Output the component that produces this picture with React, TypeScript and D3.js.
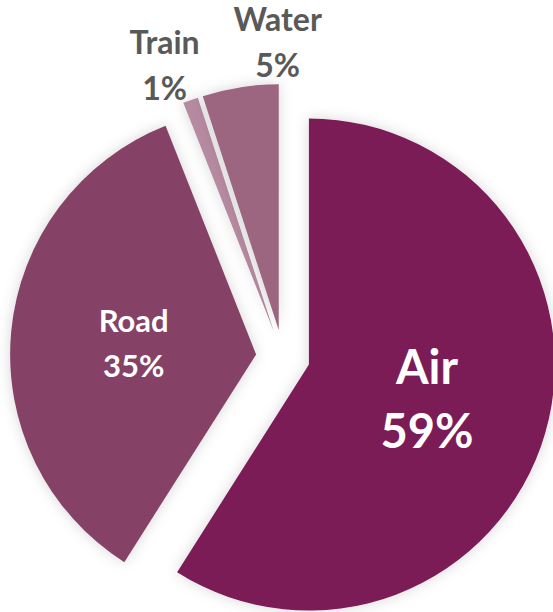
import React, { useEffect, useRef } from 'react';
import * as d3 from 'd3';

const categories = ['Air', 'Road', 'Train', 'Water'];
const shares = [59, 35, 1, 5];
const sliceColors = ['#7b1a57', '#854366', '#b68aa0', '#9c6580'];

// label placement: inside labels sit halfway out, small ones outside
const labelInside = [true, true, false, false];
const labelAngleNudge = [0, 0, -0.04, 0.14];

const W = 553;
const H = 612;

export default function App() {
  const ref = useRef<SVGSVGElement>(null);

  useEffect(() => {
    if (!ref.current) return;
    const svg = d3.select(ref.current);
    svg.selectAll('*').remove();

    const cx = 283;
    const cy = 357;
    const r = 246;
    const explode = 27;

    const defs = svg.append('defs');
    const f = defs.append('filter').attr('id', 'glow')
      .attr('x', '-20%').attr('y', '-20%').attr('width', '140%').attr('height', '140%');
    f.append('feGaussianBlur').attr('in', 'SourceAlpha').attr('stdDeviation', 7).attr('result', 'blur');
    f.append('feFlood').attr('flood-color', '#000').attr('flood-opacity', 0.16).attr('result', 'c');
    f.append('feComposite').attr('in', 'c').attr('in2', 'blur').attr('operator', 'in').attr('result', 'shadow');
    const m = f.append('feMerge');
    m.append('feMergeNode').attr('in', 'shadow');
    m.append('feMergeNode').attr('in', 'SourceGraphic');

    const pie = d3.pie<number>().sort(null).value(d => d);
    const arcs = pie(shares);
    const arc = d3.arc<d3.PieArcDatum<number>>().innerRadius(0).outerRadius(r);

    const polar = (a: number, dist: number): [number, number] => [Math.sin(a) * dist, -Math.cos(a) * dist];

    const g = svg.append('g').attr('transform', `translate(${cx},${cy})`);

    g.selectAll('path.slice')
      .data(arcs)
      .enter()
      .append('path')
      .attr('class', 'slice')
      .attr('d', d => arc(d) as string)
      .attr('fill', (_, i) => sliceColors[i])
      .attr('filter', 'url(#glow)')
      .attr('transform', d => {
        const [dx, dy] = polar((d.startAngle + d.endAngle) / 2, explode);
        return `translate(${dx},${dy})`;
      });

    const labels = g.selectAll('text.lbl')
      .data(arcs)
      .enter()
      .append('text')
      .attr('class', 'lbl')
      .attr('text-anchor', 'middle')
      .attr('font-family', 'Lato, "Open Sans", sans-serif')
      .attr('font-weight', 700)
      .attr('fill', (_, i) => (labelInside[i] ? '#ffffff' : '#595959'))
      .attr('font-size', (_, i) => (i === 0 ? 47 : i === 1 ? 31 : 32))
      .attr('transform', (d, i) => {
        const mid = (d.startAngle + d.endAngle) / 2 + labelAngleNudge[i];
        const dist = labelInside[i] ? explode + r * 0.5 : explode + r * 1.17;
        const [x, y] = polar(mid, dist);
        return `translate(${x},${y - (i === 0 ? 5 : 0)})`;
      });

    labels.append('tspan')
      .attr('x', 0)
      .attr('dy', (_, i) => (i === 0 ? '-0.2em' : '-0.35em'))
      .text((_, i) => categories[i]);
    labels.append('tspan')
      .attr('x', 0)
      .attr('dy', (_, i) => (i === 0 ? '1.36em' : '1.45em'))
      .text((d, i) => `${shares[i]}%`);
  }, []);

  return (
    <svg
      ref={ref}
      width={W}
      height={H}
      style={{ position: 'absolute', left: 0, top: 0, display: 'block', background: '#fff' }}
    />
  );
}
